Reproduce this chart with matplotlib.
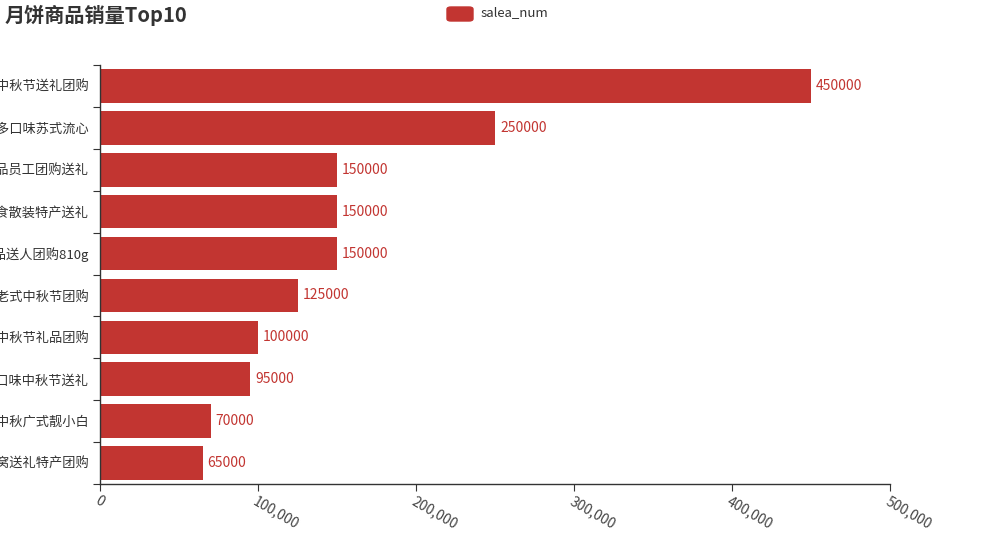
import matplotlib
matplotlib.use('Agg')
import matplotlib.pyplot as plt
from matplotlib.patches import FancyBboxPatch
from matplotlib.ticker import FuncFormatter

plt.rcParams['font.family'] = ['Noto Sans CJK SC', 'DejaVu Sans']

# 数据（从下到上）
products = ['月饼礼盒伴手礼燕窝送礼特产团购', '月饼礼盒流心奶黄中秋广式靓小白', '月饼礼盒多口味中秋节送礼',
            '月饼礼盒中秋节礼品团购', '月饼礼盒老式中秋节团购', '月饼礼盒中秋礼品送人团购810g',
            '月饼礼盒零食散装特产送礼', '月饼礼盒礼品员工团购送礼', '月饼礼盒多口味苏式流心',
            '月饼礼盒中秋节送礼团购']
sales = [65000, 70000, 95000, 100000, 125000, 150000, 150000, 150000, 250000, 450000]
xticks = [0, 100000, 200000, 300000, 400000, 500000]

red = '#c23531'
dark = '#333333'

fig = plt.figure(figsize=(9.9, 5.5), dpi=100)
ax = fig.add_axes([100 / 990, 66 / 550, 790 / 990, 419 / 550])

pos = list(range(len(products)))
ax.barh(pos, sales, height=0.8, color=red)
for y, v in zip(pos, sales):
    ax.annotate(str(v), (v, y), xytext=(3.6, 0), textcoords='offset points',
                color=red, fontsize=10, va='center', ha='left')

ax.set_xlim(0, 500000)
ax.set_ylim(-0.5, len(products) - 0.5)

for s in ['top', 'right']:
    ax.spines[s].set_visible(False)
for s in ['left', 'bottom']:
    ax.spines[s].set_color(dark)
    ax.spines[s].set_linewidth(1)

# y 轴：刻度在类目边界，标签在中间
ax.set_yticks([p - 0.5 for p in pos] + [len(products) - 0.5])
ax.set_yticklabels([])
ax.set_yticks(pos, minor=True)
ax.set_yticklabels(products, minor=True, fontsize=9.5, color=dark)
ax.tick_params(axis='y', which='major', length=5, color=dark, direction='out')
ax.tick_params(axis='y', which='minor', length=0, pad=8)

ax.set_xticks(xticks)
ax.xaxis.set_major_formatter(FuncFormatter(lambda v, p: f'{int(v):,}'))
ax.tick_params(axis='x', length=5, color=dark, labelcolor='#444444', labelsize=10, pad=2)
for lbl in ax.get_xticklabels():
    lbl.set_rotation(-30)
    lbl.set_ha('left')
    lbl.set_va('top')
    lbl.set_rotation_mode('anchor')

fig.text(5 / 990, 1 - 15 / 550, '月饼商品销量Top10', fontsize=14.5, fontweight='bold',
         color=dark, va='center', ha='left')

# 图例
fig.patches.append(FancyBboxPatch((447 / 990, 1 - 21 / 550), 26 / 990, 14 / 550,
                                  boxstyle='round,pad=0,rounding_size=0.004',
                                  transform=fig.transFigure, color=red))
fig.text(481 / 990, 1 - 13 / 550, 'salea_num', fontsize=9.5, color=dark, va='center', ha='left')

fig.savefig('out.png', dpi=100)
